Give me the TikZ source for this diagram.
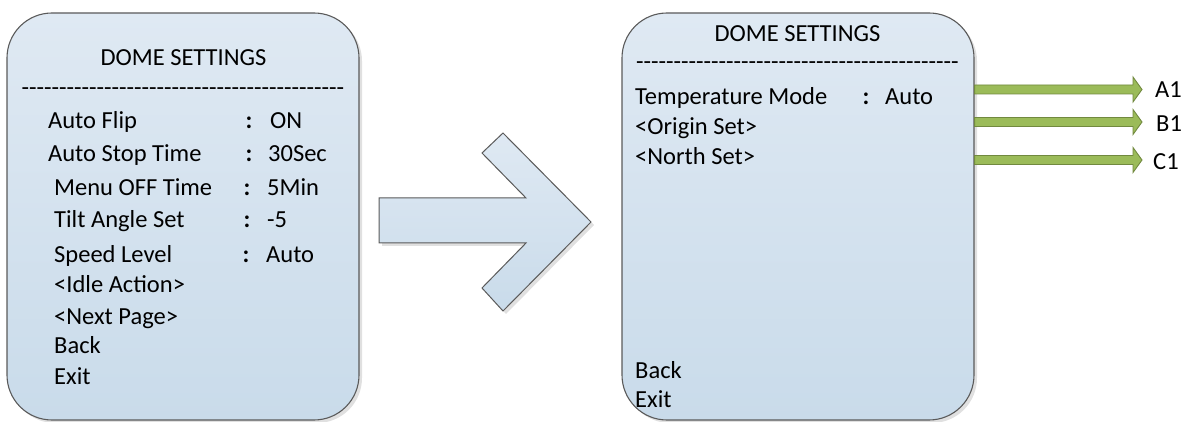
\documentclass[tikz,border=0pt]{standalone}
\usepackage{fontspec}
\setmainfont{Carlito}
\newfontfamily\dashfont{Carlito}[Ligatures=TeXOff]
\usetikzlibrary{calc,shadows}
\newcommand\menufont{\fontsize{24.5}{29}\selectfont}
\definecolor{boxtop}{HTML}{DFE9F3}
\definecolor{boxbot}{HTML}{C9DBEA}
\definecolor{boxedge}{HTML}{5A5A5A}
\definecolor{gfill}{HTML}{9BBB59}
\definecolor{gedge}{HTML}{71893F}
\tikzset{
  menubox/.style={draw=boxedge, line width=1.1pt, rounded corners=45pt,
    top color=boxtop, bottom color=boxbot, minimum width=352pt, minimum height=407pt,
    inner sep=0pt, drop shadow={shadow xshift=3pt, shadow yshift=-3pt, fill=black, opacity=0.12}},
  bigarrow/.style={draw=boxedge, line width=1pt, top color=boxtop, bottom color=boxbot,
    drop shadow={shadow xshift=3pt, shadow yshift=-3pt, fill=black, opacity=0.12}},
  garrowstyle/.style={draw=gedge, fill=gfill, line width=0.9pt, line join=miter},
  txt/.style={anchor=base west, inner sep=0pt, font=\menufont},
  colon/.style={anchor=base, inner sep=0pt, font=\menufont\bfseries},
  ttl/.style={anchor=base, inner sep=0pt, font=\menufont},
  dashes/.style={anchor=base, inner sep=0pt, font=\menufont\dashfont},
}
\newcommand\garrow[2]{%
  \path[garrowstyle] ($(#1)+(0,-4.5)$) -- ($(#2)+(-9,-4.5)$) -- ($(#2)+(-9,-12.5)$)
    -- (#2) -- ($(#2)+(-9,12.5)$) -- ($(#2)+(-9,4.5)$) -- ($(#1)+(0,4.5)$) -- cycle;}
\begin{document}
\begin{tikzpicture}[x=1pt,y=-1pt]
\useasboundingbox (0,0) rectangle (1187,422);
% left menu
\node[menubox] (lbox) at (183,216.5) {};
\node[ttl] (lt) at (183.5,66) {DOME SETTINGS};
\node[dashes] (ld) at (183,96) {-------------------------------------------};
\node[txt] (l1) at (48,129) {Auto Flip};
\node[txt] (l2) at (48,162) {Auto Stop Time};
\node[txt] (l3) at (54,196) {Menu OFF Time};
\node[txt] (l4) at (54,228) {Tilt Angle Set};
\node[txt] (l5) at (54,263) {Speed Level};
\node[txt] (l6) at (54,293) {<Idle Action>};
\node[txt] (l7) at (54,324) {<Next Page>};
\node[txt] (l8) at (54,353) {Back};
\node[txt] (l9) at (54,384) {Exit};
\node[colon] (c1) at (249,129) {:};
\node[colon] (c2) at (249,162) {:};
\node[colon] (c3) at (247,196) {:};
\node[colon] (c4) at (247,228) {:};
\node[colon] (c5) at (246,263) {:};
\node[txt] (v1) at (270,129) {ON};
\node[txt] (v2) at (268,162) {30Sec};
\node[txt] (v3) at (267,196) {5Min};
\node[txt] (v4) at (267,228) {-5};
\node[txt] (v5) at (266,263) {Auto};
% big arrow
\path[bigarrow] (379,198) -- (526,198) -- (482,153) -- (503,133) -- (591,222)
  -- (503,311) -- (482,288) -- (526,243) -- (379,243) -- cycle;
% right menu
\node[menubox] (rbox) at (798,216.5) {};
\node[ttl] (rt) at (797.5,42) {DOME SETTINGS};
\node[dashes] (rd) at (797.5,70) {-------------------------------------------};
\node[txt] (r1) at (635,105) {Temperature Mode};
\node[colon] (rc1) at (866,105) {:};
\node[txt] (rv1) at (885,105) {Auto};
\node[txt] (r2) at (635,135) {<Origin Set>};
\node[txt] (r3) at (635,165) {<North Set>};
\node[txt] (r4) at (635,378) {Back};
\node[txt] (r5) at (635,407) {Exit};
% outputs
\node[txt] (A1) at (1155,98) {A1};
\node[txt] (B1) at (1156,132) {B1};
\node[txt] (C1) at (1153,170) {C1};
\coordinate (a1e) at (1142,89.5);
\coordinate (b1e) at (1142,122);
\coordinate (c1e) at (1142,160);
\coordinate (a1s) at (rbox.east |- a1e);
\coordinate (b1s) at (rbox.east |- b1e);
\coordinate (c1s) at (rbox.east |- c1e);
\garrow{a1s}{a1e}
\garrow{b1s}{b1e}
\garrow{c1s}{c1e}
\end{tikzpicture}
\end{document}
